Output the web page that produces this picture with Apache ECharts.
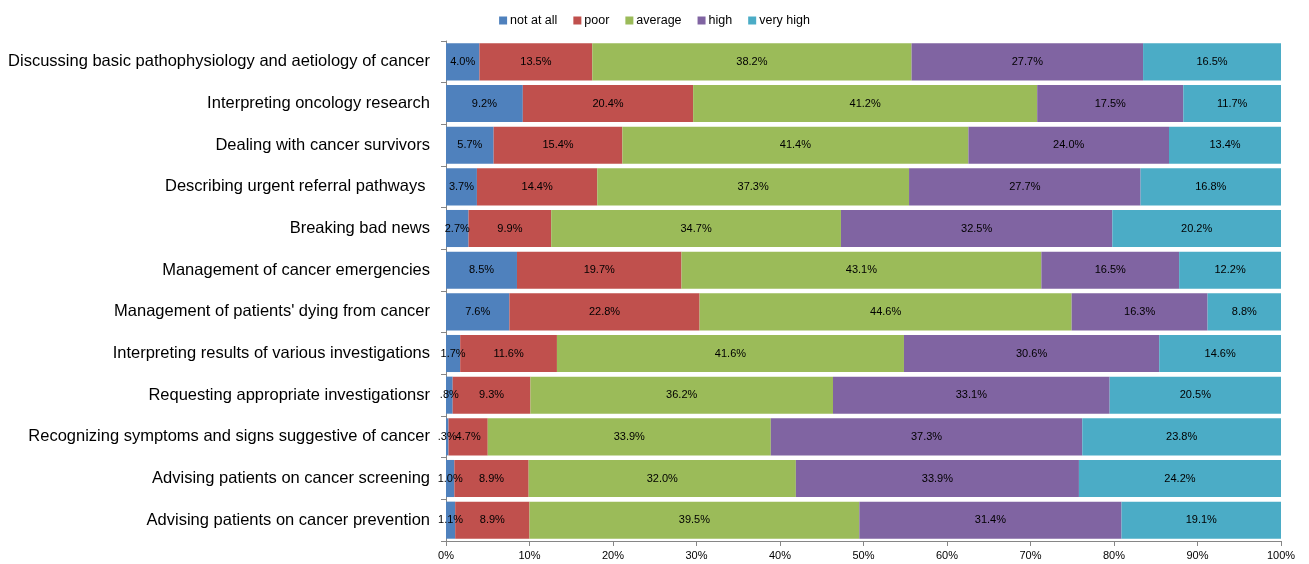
<!DOCTYPE html>
<html><head><meta charset="utf-8">
<script src="https://cdn.jsdelivr.net/npm/echarts@6/dist/echarts.min.js"></script>
<style>html,body{margin:0;padding:0;background:#fff}#c{width:1309px;height:564px}</style>
</head><body><div id="c"></div>
<script>
const categories = [
  "Discussing basic pathophysiology and aetiology of cancer",
  "Interpreting oncology research",
  "Dealing with cancer survivors",
  "Describing urgent referral pathways ",
  "Breaking bad news",
  "Management of cancer emergencies",
  "Management of patients' dying from cancer",
  "Interpreting results of various investigations",
  "Requesting appropriate investigationsr",
  "Recognizing symptoms and signs suggestive of cancer",
  "Advising patients on cancer screening",
  "Advising patients on cancer prevention"
];
const seriesNames = ["not at all", "poor", "average", "high", "very high"];
const notAtAll = [4.0, 9.2, 5.7, 3.7, 2.7, 8.5, 7.6, 1.7, 0.8, 0.3, 1.0, 1.1];
const poor     = [13.5, 20.4, 15.4, 14.4, 9.9, 19.7, 22.8, 11.6, 9.3, 4.7, 8.9, 8.9];
const average  = [38.2, 41.2, 41.4, 37.3, 34.7, 43.1, 44.6, 41.6, 36.2, 33.9, 32.0, 39.5];
const high     = [27.7, 17.5, 24.0, 27.7, 32.5, 16.5, 16.3, 30.6, 33.1, 37.3, 33.9, 31.4];
const veryHigh = [16.5, 11.7, 13.4, 16.8, 20.2, 12.2, 8.8, 14.6, 20.5, 23.8, 24.2, 19.1];
const xTicks = ["0%","10%","20%","30%","40%","50%","60%","70%","80%","90%","100%"];
const colors = ["#4F81BD", "#C0504D", "#9BBB59", "#8064A2", "#4BACC6"];

const all = [notAtAll, poor, average, high, veryHigh];
const sums = categories.map((_, i) => all.reduce((s, a) => s + a[i], 0));
function fmt(v){ let s = v.toFixed(1); if (s.startsWith("0.")) s = s.slice(1); return s + "%"; }

const chart = echarts.init(document.getElementById('c'), null, {renderer: 'canvas'});
chart.setOption({
  animation: false,
  legend: {
    top: 9, left: 'center', itemWidth: 8, itemHeight: 8, itemGap: 16,
    icon: 'rect',
    textStyle: {fontFamily: 'Liberation Sans', fontSize: 12.5, color: '#000', padding: [0,0,0,-2]},
    data: seriesNames
  },
  grid: {left: 446, right: 28, top: 41, bottom: 23, containLabel: false},
  xAxis: {
    type: 'value', min: 0, max: 100, interval: 10,
    axisLine: {show: true, lineStyle: {color: '#868686'}},
    axisTick: {show: true, length: 5, lineStyle: {color: '#868686'}},
    splitLine: {show: false},
    axisLabel: {margin: 9, fontFamily: 'Liberation Sans', fontSize: 11, color: '#000',
      formatter: v => xTicks[Math.round(v/10)]}
  },
  yAxis: {
    type: 'category', inverse: true, data: categories,
    axisLine: {show: true, lineStyle: {color: '#868686'}},
    axisTick: {show: true, length: 5, lineStyle: {color: '#868686'}},
    axisLabel: {margin: 16, fontFamily: 'Liberation Sans', fontSize: 16.5, color: '#000'}
  },
  series: all.map((arr, k) => ({
    name: seriesNames[k], type: 'bar', stack: 'total', barCategoryGap: '11%',
    itemStyle: {color: colors[k]},
    label: {show: true, position: 'inside', fontFamily: 'Liberation Sans', fontSize: 11, color: '#000',
      formatter: p => fmt(arr[p.dataIndex])},
    data: arr.map((v, i) => v / sums[i] * 100)
  }))
});
</script></body></html>
